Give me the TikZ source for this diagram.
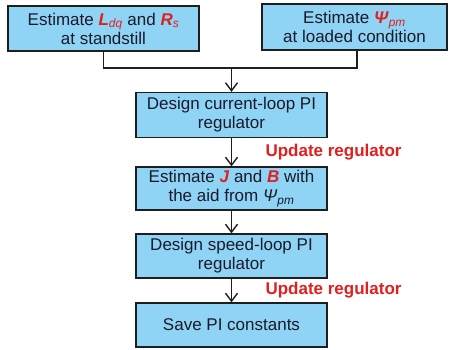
\documentclass[tikz,border=0pt]{standalone}
\usepackage{fontspec}
\setmainfont{Liberation Sans}
\usepackage{xcolor}
\usetikzlibrary{arrows.meta}
\definecolor{boxfill}{HTML}{8FD3F5}
\definecolor{boxline}{HTML}{1E1E1E}
\definecolor{txt}{HTML}{1A1A2A}
\definecolor{hot}{HTML}{E0201F}
\newcommand{\rv}[2]{\textcolor{hot}{\textbf{\textit{#1}}\textsubscript{\textit{#2}}}}
\newcommand{\rb}[1]{\textcolor{hot}{\textbf{\textit{#1}}}}
\tikzset{
  stepbox/.style={draw=boxline, fill=boxfill, line width=1.2pt, text=txt,
    font=\fontsize{17}{19}\selectfont, align=center, inner sep=0pt},
  flow/.style={draw=boxline, line width=1.4pt},
  arr/.style={flow, -{Straight Barb[length=8pt,width=12pt,line width=1.4pt]}},
  upd/.style={text=hot, font=\bfseries\fontsize{17}{19}\selectfont, anchor=west},
}
\begin{document}
\begin{tikzpicture}[x=1pt,y=-1pt]
  \useasboundingbox (0,0) rectangle (450,350);

  \node[stepbox, minimum width=191pt, minimum height=45pt] (estL) at (103.5,28.5)
    {Estimate \rv{L}{dq} and \rv{R}{s}\\at standstill};
  \node[stepbox, minimum width=185pt, minimum height=46pt] (estP) at (354.5,27)
    {Estimate \rv{Ψ}{pm}\\at loaded condition};
  \node[stepbox, minimum width=191pt, minimum height=45pt] (curPI) at (231.5,115)
    {Design current-loop PI\\regulator};
  \node[stepbox, minimum width=191pt, minimum height=43pt] (estJ) at (231.5,188.5)
    {Estimate \rb{J} and \rb{B} with\\the aid from \textit{Ψ}\textsubscript{\textit{pm}}};
  \node[stepbox, minimum width=191pt, minimum height=44pt] (spdPI) at (231.5,256)
    {Design speed-loop PI\\regulator};
  \node[stepbox, minimum width=191pt, minimum height=44pt] (save) at (231.5,325)
    {Save PI constants};

  \coordinate (join) at (curPI.north |- 0,68);
  \draw[flow] (estL.south) |- (join) -| ([xshift=2.5pt]estP.south);
  \draw[arr] (join) -- (curPI.north);
  \draw[arr] (curPI.south) -- (estJ.north);
  \draw[arr] (estJ.south) -- (spdPI.north);
  \draw[arr] (spdPI.south) -- (save.north);

  \node[upd] (upd1) at (262,152) {Update regulator};
  \node[upd] (upd2) at (262,290) {Update regulator};
\end{tikzpicture}
\end{document}
